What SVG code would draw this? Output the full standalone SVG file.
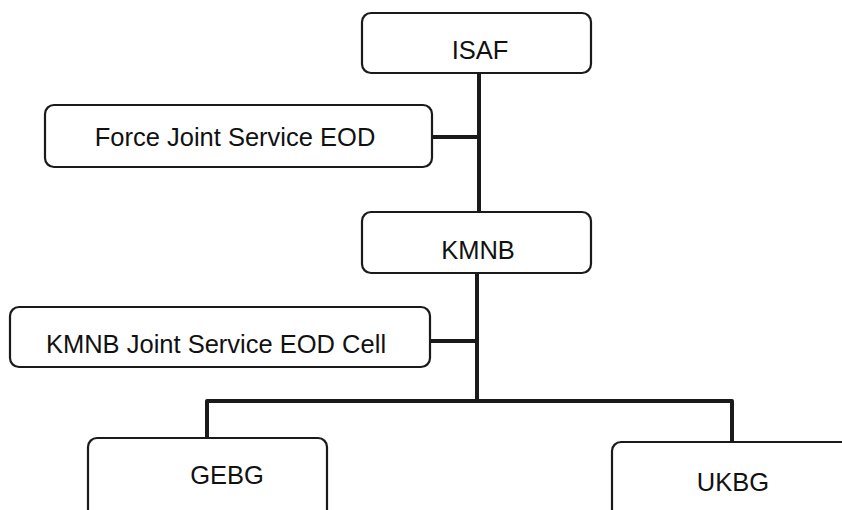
<svg xmlns="http://www.w3.org/2000/svg" width="842" height="510" viewBox="0 0 842 510">
<style>
.box{fill:#fff;stroke:#1a1a1a;stroke-width:2.2}
.lbl{font-family:"Liberation Sans",Arial,sans-serif;font-size:25.5px;fill:#111;text-anchor:middle}
.con{fill:none;stroke:#1a1a1a;stroke-width:4;stroke-linejoin:round}
</style>
<rect width="842" height="510" fill="#fff"/>
<g id="connectors">
<path class="con" d="M479 73 V212"/>
<path class="con" d="M432 137 H479"/>
<path class="con" d="M477 273 V401"/>
<path class="con" d="M430 341 H477"/>
<path class="con" d="M207 438 V401 H732 V442"/>
</g>
<g id="isaf"><rect class="box" x="362" y="13" width="229" height="60" rx="9"/><text class="lbl" x="480" y="59">ISAF</text></g>
<g id="force-eod"><rect class="box" x="45" y="105" width="387" height="62" rx="9"/><text class="lbl" x="235" y="146">Force Joint Service EOD</text></g>
<g id="kmnb"><rect class="box" x="362" y="212" width="229" height="61" rx="9"/><text class="lbl" x="478" y="259">KMNB</text></g>
<g id="kmnb-eod"><rect class="box" x="10" y="307" width="420" height="60" rx="9"/><text class="lbl" x="216" y="353">KMNB Joint Service EOD Cell</text></g>
<g id="gebg"><rect class="box" x="88" y="438" width="239" height="90" rx="9"/><text class="lbl" x="227" y="484">GEBG</text></g>
<g id="ukbg"><rect class="box" x="612" y="442" width="260" height="90" rx="9"/><text class="lbl" x="733" y="491">UKBG</text></g>
</svg>
